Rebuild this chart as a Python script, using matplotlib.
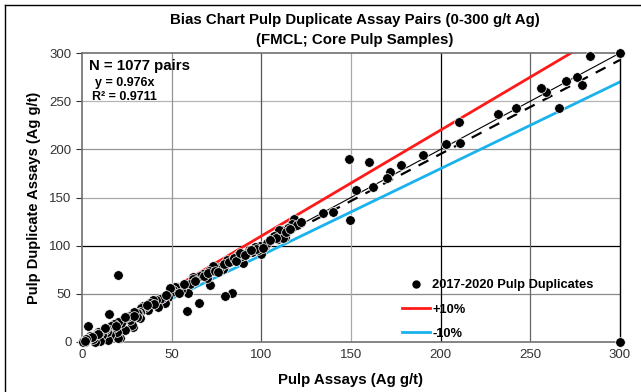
import matplotlib
matplotlib.use("Agg")
import matplotlib.pyplot as plt
from matplotlib.lines import Line2D
import numpy as np

plt.rcParams['font.family'] = ['Liberation Sans', 'DejaVu Sans']

# Pulp assay (x) and pulp duplicate assay (y), Ag g/t
pulp = [300, 283, 300, 276, 279, 270, 266, 259, 256, 242, 232, 211, 210, 203, 190, 178,
        172, 170, 162, 160, 153, 149, 149.5, 140, 134.6, 121.6, 118, 118, 117, 115,
        113, 111, 110, 109.5, 106, 112, 104, 102, 99, 96.5, 100, 98, 93, 95, 90, 89,
        87, 84, 80.7, 80, 83.7, 80, 78.8, 77, 75, 73, 71, 71.4, 69.5, 67.7, 66, 65,
        62, 62, 60, 59, 58.7, 56, 55, 53, 51.9, 51, 50, 49, 48, 46.3, 45, 44.4, 43.5,
        42.6, 41, 39.8, 38, 37, 37, 35, 34, 33, 32.4, 32.3, 31, 30.5, 30.5, 29, 28.6,
        27.7, 27.7, 26.8, 26, 25, 24, 23, 22, 21, 20.3, 20, 20, 19.3, 18, 17.5, 17.5,
        16, 15.6, 15.2, 14.7, 14, 13.8, 12.8, 12, 11, 10, 10, 9, 8, 7.2, 7, 6.3, 6, 5,
        4.5, 4, 3.5, 3, 2, 1.7, 1, 0.7, 0.5,
        92, 97, 103, 107, 108, 114, 120, 122, 57, 63, 68, 70, 74, 76, 79, 82, 85, 86,
        88, 91, 94, 101, 105, 116, 54, 47, 40, 36, 29, 24, 19, 13, 9, 5.5, 2.5, 1.5]
duplicate = [300, 297, 0, 275, 267, 271, 243, 260, 264, 243, 237, 207, 228, 206, 194, 184,
             176, 170, 161, 187, 158, 190, 127, 135, 133.6, 124, 120, 128, 122, 118,
             109, 116, 116, 107, 108, 108, 105, 100, 100, 99, 91, 95.5, 96, 93, 82, 89,
             90, 85, 85, 80, 50.5, 48, 75.5, 77.5, 75.5, 79, 74, 59, 66, 71, 68, 40,
             67, 65, 60, 50.5, 32, 58, 54, 57, 57.4, 54, 52, 56, 47, 40, 47, 45.4, 45,
             36.7, 44, 43.6, 40, 36.7, 33, 36.7, 37, 35, 31.5, 24.6, 30, 29.8, 26, 31, 16,
             24.6, 17.6, 22.8, 27, 26, 12.5, 23, 19.4, 4.5, 3.8, 70, 21, 10.7, 19, 16, 14.2,
             17, 7.3, 28.7, 2, 14, 10.7, 12.5, 13, 7.3, 1.3, 10, 10, 8, 7.3, 0.3, 2.8, 6, 5,
             6.2, 4, 16.6, 3, 2, 0.3, 1, 1.3, 0.5,
             92, 97, 103, 110, 108, 114, 121, 125, 60, 63, 68, 72, 74, 73, 81, 83, 87, 84,
             92, 90, 96, 98, 106, 117, 51, 49, 39, 38, 27, 26, 17, 15, 8, 5, 3, 1.5]

n_pairs = 1077
slope = 0.976
r2 = 0.9711
line_x = [0, 300]

W, H = 641, 392
fig = plt.figure(figsize=(W / 100, H / 100), dpi=100)
ax = fig.add_axes([82 / W, 1 - 342 / H, 538 / W, 289 / H])

# grid lines with mixed shades as in reference
hcols = {50: '#8a8a8a', 100: '#000000', 150: '#a8a8a8', 200: '#959595', 250: '#b5b5b5'}
vcols = {50: '#959595', 100: '#555555', 150: '#a8a8a8', 200: '#000000', 250: '#666666'}
for v, c in hcols.items():
    ax.axhline(v, color=c, lw=0.9, zorder=0)
for v, c in vcols.items():
    ax.axvline(v, color=c, lw=0.9, zorder=0)

# reference lines
ax.plot(line_x, [v * 1.1 for v in line_x], color='#ff1a1a', lw=2.0, zorder=2)
ax.plot(line_x, [v * 0.9 for v in line_x], color='#1ab2ec', lw=2.0, zorder=2)
ax.plot(line_x, line_x, color='black', lw=0.8, zorder=2)
ax.plot(line_x, [v * slope for v in line_x], color='black', lw=1.6, ls=(0, (5, 4)), zorder=2)

ax.scatter(pulp, duplicate, s=48, color='black', edgecolors='white', linewidths=0.5,
           zorder=3, clip_on=False)

ax.set_xlim(0, 300)
ax.set_ylim(0, 300)
ax.set_xticks(np.arange(0, 301, 50))
ax.set_yticks(np.arange(0, 301, 50))
ax.tick_params(axis='both', labelsize=9.5, colors='#333333', length=4, width=0.8,
               direction='out', labelcolor='#333333')
ax.tick_params(axis='x', length=0, pad=5)
for side in ['left', 'bottom', 'top']:
    ax.spines[side].set_color('#707070')
    ax.spines[side].set_linewidth(1.2)
ax.spines['right'].set_color('black')
ax.spines['right'].set_linewidth(1.0)

ax.set_xlabel('Pulp Assays (Ag g/t)', fontsize=10.8, fontweight='bold', labelpad=9)
ax.set_ylabel('Pulp Duplicate Assays (Ag g/t)', fontsize=10.5, fontweight='bold', labelpad=6)

cx = 0.5 * (82 + 628) / W
fig.text(cx, 1 - 20 / H, 'Bias Chart Pulp Duplicate Assay Pairs (0-300 g/t Ag)',
         ha='center', va='center', fontsize=10.8, fontweight='bold')
fig.text(cx, 1 - 40 / H, '(FMCL; Core Pulp Samples)',
         ha='center', va='center', fontsize=10.8, fontweight='bold')

ax.text(0.013, 0.955, f'N = {n_pairs} pairs', transform=ax.transAxes, fontsize=10.8,
        fontweight='bold', va='center', ha='left')
ax.text(0.025, 0.895, f'y = {slope}x', transform=ax.transAxes, fontsize=9,
        fontweight='bold', va='center', ha='left')
ax.text(0.018, 0.847, f'R² = {r2}', transform=ax.transAxes, fontsize=9,
        fontweight='bold', va='center', ha='left')

handles = [Line2D([], [], marker='o', ls='none', color='black', markersize=5),
           Line2D([], [], color='#ff1a1a', lw=2),
           Line2D([], [], color='#1ab2ec', lw=2)]
labels = ['2017-2020 Pulp Duplicates', '+10%', '-10%']
ax.legend(handles, labels, loc='upper left', bbox_to_anchor=(0.585, 0.235), frameon=False,
          prop={'weight': 'bold', 'size': 9.3}, handlelength=2.2, handletextpad=0.15,
          labelspacing=0.95, borderaxespad=0)

# outer figure border (left and top visible)
fig.add_artist(Line2D([5 / W, 5 / W], [0, 1 - 5 / H], color='black', lw=1.0))
fig.add_artist(Line2D([5 / W, 1], [1 - 5 / H, 1 - 5 / H], color='black', lw=1.0))

fig.savefig('out.png', dpi=100)
